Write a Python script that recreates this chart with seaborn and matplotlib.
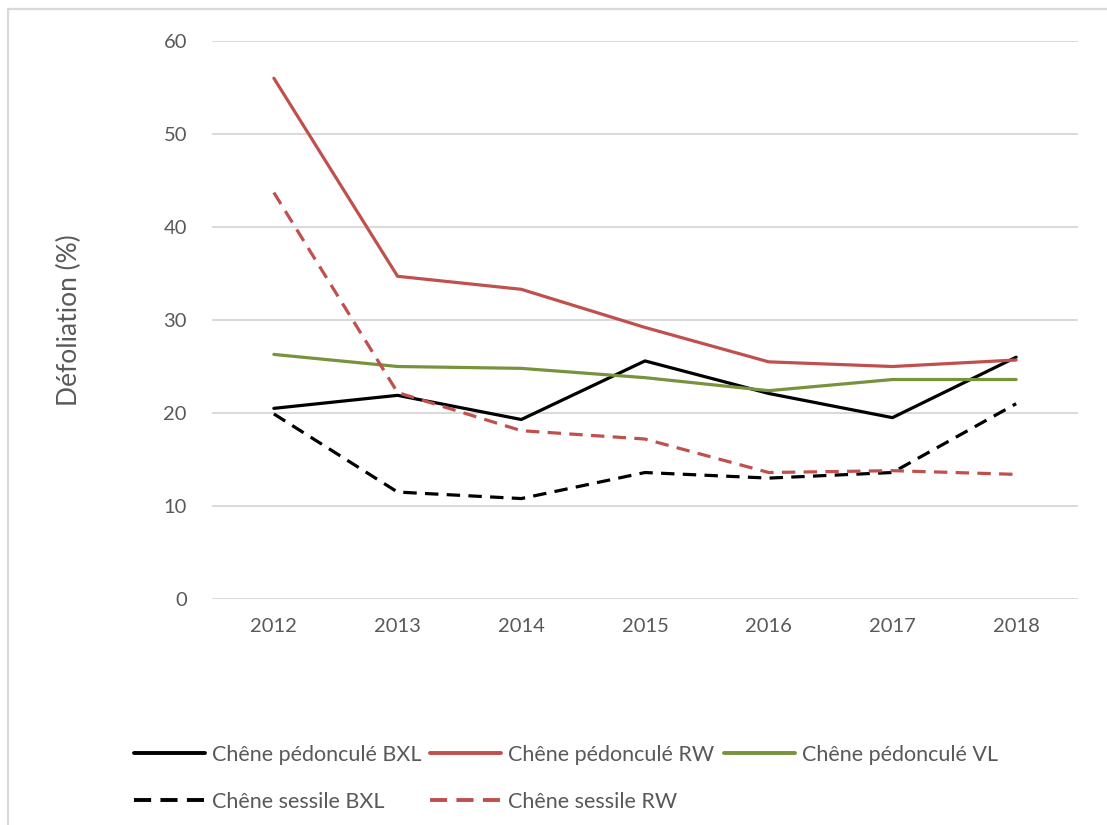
import matplotlib
matplotlib.use("Agg")
import matplotlib.pyplot as plt
from matplotlib.lines import Line2D
import pandas as pd
import seaborn as sns

# --- Data ---
years = ["2012", "2013", "2014", "2015", "2016", "2017", "2018"]

ped_bxl = [20.5, 21.9, 19.3, 25.6, 22.1, 19.5, 26.0]
ped_rw = [56.0, 34.7, 33.3, 29.2, 25.5, 25.0, 25.7]
ped_vl = [26.3, 25.0, 24.8, 23.8, 22.4, 23.6, 23.6]
ses_bxl = [19.9, 11.5, 10.8, 13.6, 13.0, 13.6, 21.0]
ses_rw = [43.7, 22.2, 18.1, 17.2, 13.6, 13.8, 13.4]

series_names = [
    "Chêne pédonculé BXL",
    "Chêne pédonculé RW",
    "Chêne pédonculé VL",
    "Chêne sessile BXL",
    "Chêne sessile RW",
]
series_values = [ped_bxl, ped_rw, ped_vl, ses_bxl, ses_rw]

yticks = [0, 10, 20, 30, 40, 50, 60]

# --- Styling ---
BLACK = "#000000"
RED = "#c0504d"
GREEN = "#77933c"
GRID = "#d9d9d9"
TEXT = "#595959"

colors = {
    "Chêne pédonculé BXL": BLACK,
    "Chêne pédonculé RW": RED,
    "Chêne pédonculé VL": GREEN,
    "Chêne sessile BXL": BLACK,
    "Chêne sessile RW": RED,
}
dashed = {"Chêne sessile BXL", "Chêne sessile RW"}

sns.set_theme(style="white")
plt.rcParams["font.family"] = ["Lato", "DejaVu Sans"]

# long-form table for seaborn
rows = []
for name, vals in zip(series_names, series_values):
    for i, v in enumerate(vals):
        rows.append({"pos": i, "year": years[i], "serie": name, "value": v})
df = pd.DataFrame(rows)

fig = plt.figure(figsize=(11.07, 8.25), dpi=100)
ax = fig.add_axes([212 / 1107, 1 - 599 / 825, (1078 - 212) / 1107, (599 - 41) / 825])

DASH = (4.2, 2.6)
sns.lineplot(
    data=df, x="pos", y="value", hue="serie", style="serie",
    hue_order=series_names, style_order=series_names,
    palette=colors,
    dashes={n: (DASH if n in dashed else "") for n in series_names},
    linewidth=2.3, ax=ax, legend=False, sort=False,
)

ax.set_xlim(-0.5, len(years) - 0.5)
ax.set_ylim(0, 60)
ax.set_xticks(range(len(years)))
ax.set_xticklabels(years)
ax.set_yticks(yticks)
ax.set_yticklabels([str(t) for t in yticks])
for y in yticks:
    ax.axhline(y, color=GRID, linewidth=1.4, zorder=0)
for s in ax.spines.values():
    s.set_visible(False)
ax.tick_params(axis="both", length=0, labelsize=14.5, labelcolor=TEXT)
ax.tick_params(axis="x", pad=14)
ax.tick_params(axis="y", pad=18)
ax.set_xlabel("")
ax.set_ylabel("Défoliation (%)", fontsize=19, color=TEXT, labelpad=0)
ax.yaxis.set_label_coords(-(212 - 82) / 866, 0.5)

# legend: row-major order emulated for column-major fill
LEG_DASH = (4.4, 2.4)
handles = {
    n: Line2D([], [], color=colors[n], linewidth=2.8,
              linestyle=((0, LEG_DASH) if n in dashed else "-"))
    for n in series_names
}
order = [
    "Chêne pédonculé BXL", "Chêne sessile BXL",
    "Chêne pédonculé RW", "Chêne sessile RW",
    "Chêne pédonculé VL",
]
leg = fig.legend(
    [handles[n] for n in order], order,
    loc="upper left", bbox_to_anchor=(125 / 1107, 1 - 736 / 825),
    ncol=3, frameon=False, fontsize=15.5,
    handlelength=3.3, handletextpad=0.33, columnspacing=0.42,
    labelspacing=1.25, borderaxespad=0,
)
for t in leg.get_texts():
    t.set_color(TEXT)

# thin chart-area frame visible at top/left
fig.add_artist(Line2D([8 / 1107, 1], [1 - 9 / 825, 1 - 9 / 825],
                      color=GRID, linewidth=1.6, transform=fig.transFigure))
fig.add_artist(Line2D([8 / 1107, 8 / 1107], [0, 1 - 9 / 825],
                      color=GRID, linewidth=1.6, transform=fig.transFigure))

fig.savefig("out.png", dpi=100, facecolor="white")
